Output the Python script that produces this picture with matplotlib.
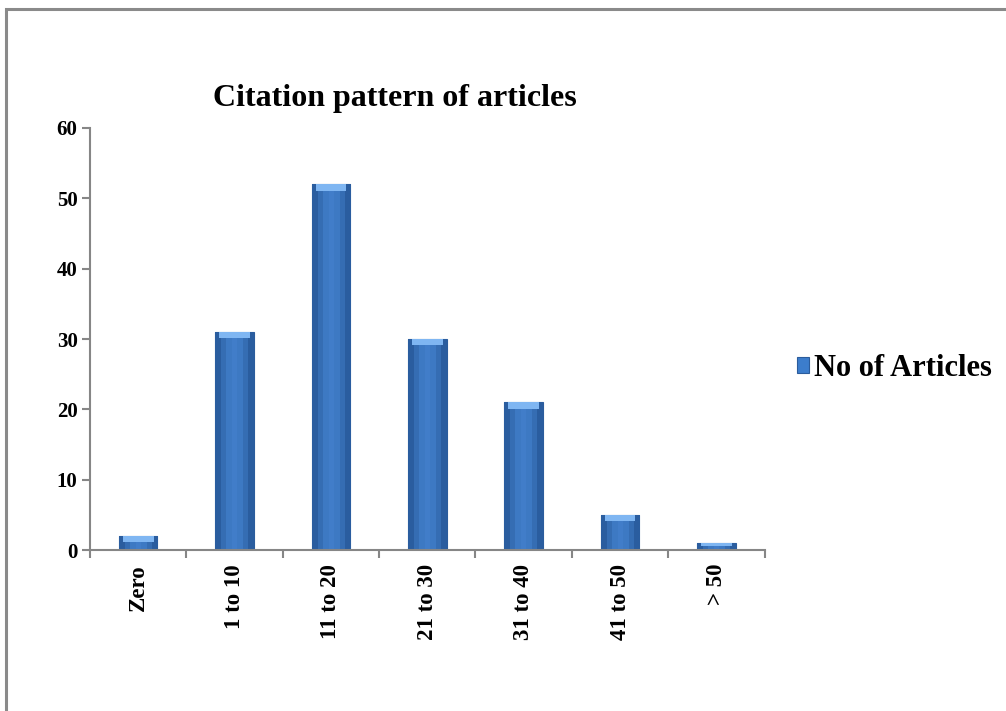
import matplotlib
matplotlib.use("Agg")
import matplotlib.pyplot as plt
from matplotlib.patches import Rectangle
import numpy as np

categories = ["Zero", "1 to 10", "11 to 20", "21 to 30", "31 to 40", "41 to 50", "> 50"]
articles = [2, 31, 52, 30, 21, 5, 1]
series_name = "No of Articles"
yticks = [0, 10, 20, 30, 40, 50, 60]

plt.rcParams['font.family'] = ['Liberation Serif', 'DejaVu Serif']
plt.rcParams['font.weight'] = 'bold'

fig = plt.figure(figsize=(10.06, 7.11), dpi=100)
ax = fig.add_axes([0.0895, 0.2264, 0.6705, 0.5936])

x = np.arange(len(categories))
bars = ax.bar(x, articles, width=0.4, color="#3c7dcc", edgecolor="#2b5c9c",
              linewidth=0.8, zorder=2, label=series_name)

# horizontal shading inside each bar
grad = np.array([[0.0, 0.35, 0.6, 0.7, 0.6, 0.35, 0.0]])
cmap = matplotlib.colors.LinearSegmentedColormap.from_list(
    "barshade", ["#2a5d9f", "#4b8cdb"])
for b in bars:
    x0, w, h = b.get_x(), b.get_width(), b.get_height()
    im = ax.imshow(grad, extent=[x0, x0 + w, 0, h], aspect="auto",
                   cmap=cmap, vmin=0, vmax=1, zorder=2.1)
    im.set_clip_path(b)
    # light bevel on top
    cap = min(0.9, h * 0.45)
    ax.bar(b.get_x() + w / 2, cap, width=w * 0.8, bottom=h - cap,
           color="#7fb6f2", linewidth=0, zorder=2.2)

ax.set_xlim(-0.5, len(categories) - 0.5)
ax.set_ylim(0, 60)
ax.set_yticks(yticks)
ax.set_xticks(x)
ax.set_xticklabels(categories, rotation=90, fontsize=16.5, fontweight='bold')
ax.set_xticks(np.arange(len(categories) + 1) - 0.5, minor=True)
ax.tick_params(axis='x', which='major', length=0, pad=10)
ax.tick_params(axis='x', which='minor', length=6, color="#868686", width=1.5,
               direction='out')
ax.tick_params(axis='y', length=6, color="#868686", width=1.5, direction='out',
               labelsize=15, pad=3)
for lab in ax.get_yticklabels():
    lab.set_fontweight('bold')

for s in ["top", "right"]:
    ax.spines[s].set_visible(False)
for s in ["left", "bottom"]:
    ax.spines[s].set_color("#868686")
    ax.spines[s].set_linewidth(1.5)

fig.text(0.393, 0.862, "Citation pattern of articles", ha='center', va='center',
         fontsize=23, fontweight='bold')

leg = ax.legend(loc='center left', bbox_to_anchor=(0.777, 0.482),
                bbox_transform=fig.transFigure, frameon=False,
                handlelength=0.4, handleheight=0.4, handletextpad=0.15,
                borderpad=0, prop={'size': 22, 'weight': 'bold'})

# outer chart frame
fig.patches.append(Rectangle((0.006, -0.05), 1.1, 1.037, transform=fig.transFigure,
                             fill=False, edgecolor="#8a8a8a", linewidth=2.2))

fig.savefig("out.png", dpi=100)
